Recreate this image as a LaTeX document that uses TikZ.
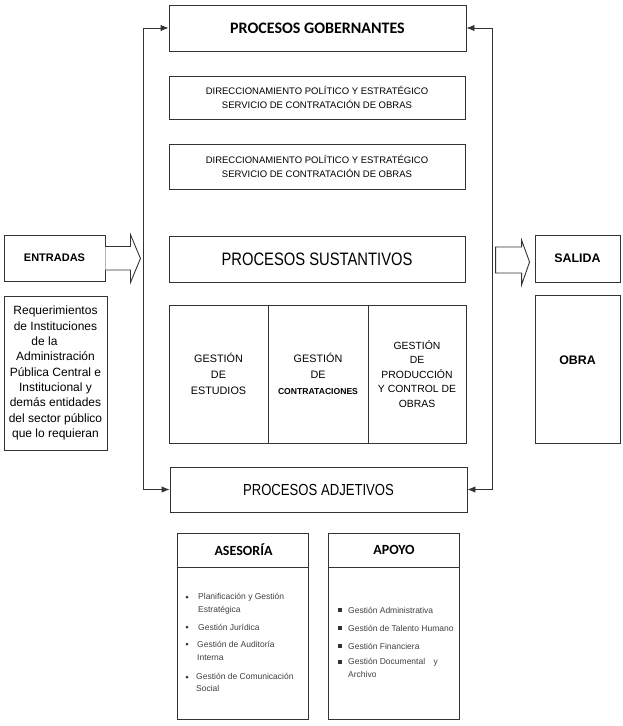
\documentclass[tikz,border=0pt]{standalone}
\usepackage{fontspec}
\setmainfont{Liberation Sans}
\newfontfamily\carlito{Carlito}
\newfontfamily\narrowfont[FakeStretch=0.82]{Liberation Sans}
\usetikzlibrary{arrows.meta,shadows}
\begin{document}
\begin{tikzpicture}[x=1pt,y=-1pt,
  box/.style={draw=black!80,line width=0.9pt,fill=white,inner sep=0pt,align=center,
    drop shadow={shadow xshift=1.3pt,shadow yshift=-1.3pt,fill=black!35,opacity=0.5}},
  conn/.style={draw=black!80,line width=0.9pt,{Latex[length=8pt,width=6.5pt]}-{Latex[length=8pt,width=6.5pt]}},
  blockarrow/.style={draw=black!80,line width=0.9pt,fill=white,line join=miter},
  itemtxt/.style={anchor=west,inner sep=0pt,align=left,text=black!75,font=\fontsize{8.5}{12.5}\selectfont},
  roundbullet/.style={circle,fill=black!80,inner sep=0pt,minimum size=3pt},
  squarebullet/.style={rectangle,fill=black!80,inner sep=0pt,minimum size=3.4pt},
  headtxt/.style={inner sep=0pt,font=\carlito\bfseries\fontsize{14}{16}\selectfont}
]
\useasboundingbox (0,0) rectangle (623,726);

% central column
\node[box,minimum width=297,minimum height=46,font=\carlito\bfseries\fontsize{16}{19}\selectfont] (gob) at (317.5,28) {PROCESOS GOBERNANTES};
\node[box,minimum width=296,minimum height=43,font=\fontsize{9.5}{14}\selectfont] (dir1) at (317,97.5) {DIRECCIONAMIENTO POLÍTICO Y ESTRATÉGICO\\SERVICIO DE CONTRATACIÓN DE OBRAS};
\node[box,minimum width=296,minimum height=45,font=\fontsize{9.5}{14}\selectfont] (dir2) at (317,166.5) {DIRECCIONAMIENTO POLÍTICO Y ESTRATÉGICO\\SERVICIO DE CONTRATACIÓN DE OBRAS};
\node[box,minimum width=296,minimum height=46,font=\narrowfont\fontsize{18}{20}\selectfont] (sus) at (317,259) {PROCESOS SUSTANTIVOS};

\node[box,minimum width=99,minimum height=138,font=\fontsize{10.8}{16}\selectfont] (col1) at (218.5,374) {GESTIÓN\\DE\\ESTUDIOS};
\node[box,minimum width=100,minimum height=138,font=\fontsize{10.8}{16}\selectfont] (col2) at (318,374) {GESTIÓN\\DE\\{\bfseries\fontsize{8.6}{15}\selectfont CONTRATACIONES}};
\node[box,minimum width=98,minimum height=138,font=\fontsize{10.4}{14.5}\selectfont] (col3) at (417,374) {GESTIÓN\\DE\\PRODUCCIÓN\\Y CONTROL DE\\OBRAS};

\node[box,minimum width=297,minimum height=45,font=\narrowfont\fontsize{16}{18}\selectfont] (adj) at (318.5,489.5) {PROCESOS ADJETIVOS};

% feedback loops
\draw[conn] (gob.west) -- ++(-25,0) |- (adj.west);
\draw[conn] (gob.east) -- ++(26,0) |- (adj.east);

% left side
\node[box,minimum width=101,minimum height=46,font=\bfseries\fontsize{11}{13}\selectfont] (ent) at (54.5,258) {ENTRADAS};
\node[box,minimum width=103,minimum height=154,font=\fontsize{12}{15.3}\selectfont] (req) at (55.5,373) {Requerimientos\\de Instituciones\\de la\rule{22pt}{0pt}\\Administración\\Pública Central e\\Institucional y\\demás entidades\\del sector público\\que lo requieran};
\draw[blockarrow,shift={(ent.east)}] (0,-11.5) -- (25,-11.5) -- (25,-23.5) -- (35,0.5) -- (25,24.5) -- (25,12) -- (0,12);

% right side
\node[box,minimum width=85,minimum height=47,font=\bfseries\fontsize{12.4}{15}\selectfont] (sal) at (577.5,258.5) {SALIDA};
\node[box,minimum width=85,minimum height=148] (obra) at (577.5,369) {};
\node[inner sep=0pt,font=\bfseries\fontsize{12.4}{15}\selectfont] (obratxt) at (obra.center) [yshift=9pt] {OBRA};
\draw[blockarrow,shift={(sal.west)}] (-39,-11.5) -- (-13,-11.5) -- (-13,-18.5) -- (-5,3.5) -- (-13,26.5) -- (-13,14.5) -- (-39,14.5) -- cycle;

% bottom boxes
\node[box,minimum width=131,minimum height=186] (ases) at (242.5,626) {};
\node[headtxt] (asesh) at (243.5,550) {ASESORÍA};
\draw[draw=black!80,line width=0.9pt] (ases.west) ++(0,-59) -- ++(131,0);

\node[box,minimum width=131,minimum height=186] (apoyo) at (393.5,626) {};
\node[headtxt] (apoyoh) at (394,550) {APOYO};
\draw[draw=black!80,line width=0.9pt] (apoyo.west) ++(0,-59) -- ++(131,0);

% asesoria items
\node[roundbullet] (ab1) at (187,597) {};
\node[itemtxt] (at1) at (198,603.5) {Planificación y Gestión\\Estratégica};
\node[roundbullet] (ab2) at (187,627) {};
\node[itemtxt] (at2) at (198,627) {Gestión Jurídica};
\node[roundbullet] (ab3) at (187,644) {};
\node[itemtxt] (at3) at (197,651) {Gestión de Auditoría\\Interna};
\node[roundbullet] (ab4) at (187,677) {};
\node[itemtxt] (at4) at (196,682.5) {Gestión de Comunicación\\Social};

% apoyo items
\node[squarebullet] (pb1) at (340,610) {};
\node[itemtxt] (pt1) at (348,610) {Gestión Administrativa};
\node[squarebullet] (pb2) at (340,628) {};
\node[itemtxt] (pt2) at (348,628) {Gestión de Talento Humano};
\node[squarebullet] (pb3) at (340,646) {};
\node[itemtxt] (pt3) at (348,646) {Gestión Financiera};
\node[squarebullet] (pb4) at (340,662) {};
\node[itemtxt] (pt4) at (348,668) {Gestión Documental\hspace{6pt} y\\Archivo};
\end{tikzpicture}
\end{document}
